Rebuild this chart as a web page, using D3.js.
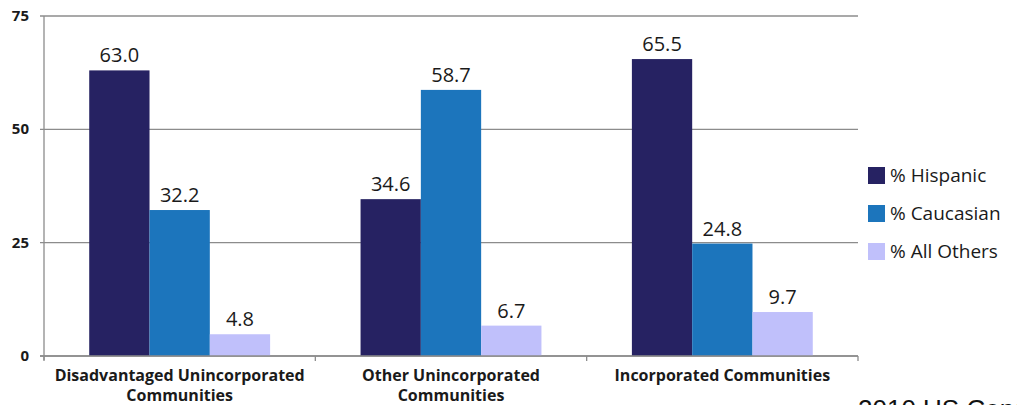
<!DOCTYPE html>
<html><head><meta charset="utf-8">
<script src="https://cdn.jsdelivr.net/npm/d3@7"></script>
<style>body{margin:0;background:#fff}svg{display:block}</style>
</head><body>
<svg id="c" width="1017" height="405"></svg>
<script>
const categories = [["Disadvantaged Unincorporated","Communities"],["Other Unincorporated","Communities"],["Incorporated Communities"]];
const seriesNames = ["% Hispanic","% Caucasian","% All Others"];
const hispanic = [63.0, 34.6, 65.5];
const caucasian = [32.2, 58.7, 24.8];
const allOthers = [4.8, 6.7, 9.7];
const yTicks = [0, 25, 50, 75];
const colors = ["#262262","#1c75bc","#c0c0fb"];

(function(){
const series = [hispanic, caucasian, allOthers];
const svg = d3.select("#c");
const mLeft = 44, mRight = 858, mTop = 16, mBottom = 356;
const x0 = d3.scaleBand().domain(d3.range(categories.length)).range([mLeft, mRight]).paddingInner(0).paddingOuter(0);
const x1 = d3.scaleBand().domain(d3.range(series.length)).range([0, x0.bandwidth()]).paddingInner(0).paddingOuter(0.75);
const y = d3.scaleLinear().domain([0, 75]).range([mBottom, mTop]);
const font = "Open Sans, sans-serif";

svg.append("g").selectAll("line").data(yTicks).join("line")
  .attr("x1", mLeft - 4).attr("x2", mRight).attr("y1", d => y(d)).attr("y2", d => y(d))
  .attr("stroke", "#8c8c8c").attr("stroke-width", 1.3);
svg.append("line").attr("x1", mLeft).attr("x2", mLeft).attr("y1", mTop).attr("y2", mBottom + 4)
  .attr("stroke", "#8c8c8c").attr("stroke-width", 1.3);
svg.append("g").selectAll("text").data(yTicks).join("text")
  .attr("x", 29).attr("y", d => y(d) + 5).attr("text-anchor", "end")
  .attr("font-family", font).attr("font-weight", "bold").attr("font-size", 15)
  .attr("fill", "#1a1a1a").text(d => d);
const catBounds = d3.range(categories.length + 1).map(i => i < categories.length ? x0(i) : mRight);
svg.append("g").selectAll("line").data(catBounds).join("line")
  .attr("x1", d => d).attr("x2", d => d).attr("y1", mBottom).attr("y2", mBottom + 5)
  .attr("stroke", "#8c8c8c").attr("stroke-width", 1.3);

series.forEach((vals, si) => {
  const g = svg.append("g");
  g.selectAll("rect").data(vals).join("rect")
    .attr("x", (d, i) => x0(i) + x1(si)).attr("width", x1.bandwidth())
    .attr("y", d => y(d)).attr("height", d => mBottom - y(d))
    .attr("fill", colors[si]);
  g.selectAll("text").data(vals).join("text")
    .attr("x", (d, i) => x0(i) + x1(si) + x1.bandwidth() / 2)
    .attr("y", d => y(d) - 8).attr("text-anchor", "middle")
    .attr("font-family", font).attr("font-size", 20)
    .attr("fill", "#1a1a1a").text(d => d.toFixed(1));
});
svg.append("line").attr("x1", mLeft - 4).attr("x2", mRight).attr("y1", mBottom).attr("y2", mBottom)
  .attr("stroke", "#8c8c8c").attr("stroke-width", 1.3);

categories.forEach((lines, i) => {
  lines.forEach((ln, j) => {
    svg.append("text").attr("text-anchor", "middle")
      .attr("font-family", font).attr("font-weight", "bold").attr("font-size", 16)
      .attr("fill", "#1a1a1a")
      .attr("x", x0(i) + x0.bandwidth() / 2).attr("y", 381 + j * 20).text(ln);
  });
});

const lg = svg.append("g");
seriesNames.forEach((n, i) => {
  const yy = 167 + i * 38;
  lg.append("rect").attr("x", 868).attr("y", yy).attr("width", 17).attr("height", 17).attr("fill", colors[i]);
  lg.append("text").attr("x", 890).attr("y", yy + 15).attr("font-family", font)
    .attr("font-size", 19).attr("fill", "#1a1a1a").text(n);
});

svg.append("text").attr("x", 858).attr("y", 418).attr("font-family", "Liberation Sans, Arial, sans-serif")
  .attr("font-size", 26).attr("fill", "#111").text("2010 US Census");
})();
</script>
</body></html>
